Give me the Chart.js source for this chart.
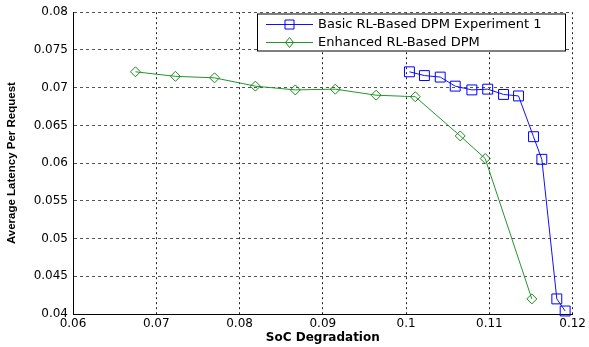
<!DOCTYPE html>
<html><head><meta charset="utf-8">
<script src="https://cdn.jsdelivr.net/npm/chart.js@4.4.1/dist/chart.umd.min.js"></script>
<style>html,body{margin:0;padding:0;background:#fff;}canvas{display:block;}</style>
</head><body>
<canvas id="c" width="589" height="347"></canvas>
<script>
// ---- data ----
const basicLabel = 'Basic RL-Based DPM Experiment 1';
const basicX = [0.1004, 0.1022, 0.1041, 0.1059, 0.1079, 0.1098, 0.1117, 0.1135, 0.1153, 0.1163, 0.1181, 0.1191];
const basicY = [0.0721, 0.0716, 0.0714, 0.0702, 0.0697, 0.0698, 0.0691, 0.0689, 0.0635, 0.0605, 0.0420, 0.0404];
const enhLabel = 'Enhanced RL-Based DPM';
const enhX = [0.0675, 0.0723, 0.0770, 0.0819, 0.0867, 0.0915, 0.0964, 0.1011, 0.1065, 0.1095, 0.1151];
const enhY = [0.0721, 0.0715, 0.0713, 0.0702, 0.0697, 0.0698, 0.0690, 0.0688, 0.0636, 0.0606, 0.0420];
const xTickValues = [0.06, 0.07, 0.08, 0.09, 0.1, 0.11, 0.12];
const xTickLabels = ['0.06', '0.07', '0.08', '0.09', '0.1', '0.11', '0.12'];
const yTickValues = [0.04, 0.045, 0.05, 0.055, 0.06, 0.065, 0.07, 0.075, 0.08];
const yTickLabels = ['0.04', '0.045', '0.05', '0.055', '0.06', '0.065', '0.07', '0.075', '0.08'];
const xTitle = 'SoC Degradation';
const yTitle = 'Average Latency Per Request';

const BLUE = '#1010ff';
const GREEN = '#22962a';
const pts = (xs, ys) => xs.map((x, i) => ({x: x, y: ys[i]}));

const matlabLegend = {
  id: 'matlabLegend',
  afterDraw(chart) {
    const ctx = chart.ctx;
    const L = 257, T = 13.5, W = 308, H = 37;
    ctx.save();
    ctx.fillStyle = '#fff';
    ctx.fillRect(L, T, W, H);
    ctx.strokeStyle = '#000';
    ctx.lineWidth = 1;
    ctx.strokeRect(L + 0.5, T + 0.5, W, H);
    chart.data.datasets.forEach((ds, i) => {
      const y = T + 11 + i * 18;
      ctx.strokeStyle = ds.borderColor;
      ctx.lineWidth = 1;
      ctx.beginPath();
      ctx.moveTo(L + 9, y); ctx.lineTo(L + 56, y);
      ctx.stroke();
      const cx = L + 32.5;
      ctx.strokeStyle = ds.pointBorderColor;
      ctx.beginPath();
      if (ds.pointStyle === 'rect') {
        ctx.rect(cx - 4.5, y - 4.5, 9, 9);
      } else {
        ctx.moveTo(cx - 4, y); ctx.lineTo(cx, y - 5); ctx.lineTo(cx + 4, y); ctx.lineTo(cx, y + 5); ctx.closePath();
      }
      ctx.stroke();
      ctx.fillStyle = '#000';
      ctx.font = '13px "DejaVu Sans"';
      ctx.textBaseline = 'middle';
      ctx.textAlign = 'left';
      ctx.fillText(ds.label, L + 61, y + 0.5);
    });
    ctx.restore();
  }
};

new Chart(document.getElementById('c'), {
  type: 'scatter',
  data: {
    datasets: [
      {
        label: basicLabel, data: pts(basicX, basicY), showLine: true,
        borderColor: BLUE, borderWidth: 1, pointStyle: 'rect', pointRadius: 7,
        pointBorderColor: '#0000ff', pointBackgroundColor: 'rgba(0,0,0,0)', pointBorderWidth: 1, clip: false
      },
      {
        label: enhLabel, data: pts(enhX, enhY), showLine: true,
        borderColor: GREEN, borderWidth: 1, pointStyle: 'rectRot', pointRadius: 5,
        pointBorderColor: '#1a8a1a', pointBackgroundColor: 'rgba(0,0,0,0)', pointBorderWidth: 1, clip: false
      }
    ]
  },
  options: {
    responsive: false,
    animation: false,
    devicePixelRatio: 1,
    layout: {padding: {left: 0, right: 14, top: 12, bottom: 0}},
    plugins: {legend: {display: false}, tooltip: {enabled: false}},
    scales: {
      x: {
        type: 'linear', min: 0.06, max: 0.12,
        afterBuildTicks: (s) => { s.ticks = xTickValues.map(v => ({value: v})); },
        afterFit: (s) => { s.height = 33; },
        ticks: {
          callback: (v, i) => xTickLabels[i], color: '#000', padding: 3,
          maxRotation: 0, autoSkip: false,
          font: {family: '"DejaVu Sans"', size: 12}
        },
        grid: {color: '#222', lineWidth: 1, drawTicks: false, tickLength: 0},
        border: {display: true, color: '#000', width: 1, dash: [2, 3]},
        title: {
          display: true, text: xTitle, color: '#000',
          font: {family: '"DejaVu Sans"', size: 12, weight: 'bold', lineHeight: 1.2},
          padding: {top: 0, bottom: 2}
        }
      },
      y: {
        type: 'linear', min: 0.04, max: 0.08,
        afterBuildTicks: (s) => { s.ticks = yTickValues.map(v => ({value: v})); },
        afterFit: (s) => { s.width = 73; },
        ticks: {
          callback: (v, i) => yTickLabels[i], color: '#000', padding: 5,
          autoSkip: false,
          font: {family: '"DejaVu Sans"', size: 12}
        },
        grid: {color: '#555', lineWidth: 1, drawTicks: false, tickLength: 0},
        border: {display: true, color: '#000', width: 1, dash: [3, 3]},
        title: {
          display: true, text: yTitle, color: '#000',
          font: {family: '"Liberation Sans", Arial', size: 11.5, weight: 'bold', lineHeight: 1.2},
          padding: {top: 5, bottom: 0}
        }
      }
    }
  },
  plugins: [matlabLegend]
});
</script>
</body></html>
